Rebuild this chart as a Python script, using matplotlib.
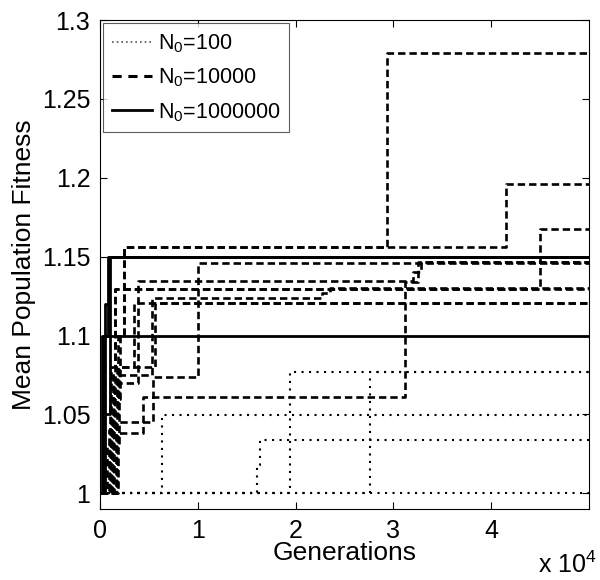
"""
Mean population fitness over generations for three starting population sizes,
step traces redrawn from the figure.
"""

import matplotlib
matplotlib.use('Agg')
import matplotlib.pyplot as plt

plt.rcParams['font.family'] = ['Liberation Sans', 'DejaVu Sans']
plt.rcParams['mathtext.fontset'] = 'custom'
plt.rcParams['mathtext.rm'] = 'Liberation Sans'

# N0 = 100 runs: generation of each jump and the fitness after it
small_gen = [[0], [0, 6300], [0, 16000, 16400], [0, 19400], [0, 27600]]
small_fit = [[1.0], [1.0, 1.0495], [1.0, 1.018, 1.0335], [1.0, 1.0766], [1.0, 1.0766]]

# N0 = 10000 runs
mid_gen = [
    [0, 1200, 1800, 2450, 29300],
    [0, 1000, 2000, 2450, 41500],
    [0, 900, 1500, 45000],
    [0, 1100, 1500],
    [0, 1800, 4400, 31200, 32500],
    [0, 1400, 3900, 32000, 32800],
    [0, 1600, 5400, 10000],
    [0, 1300, 5300, 22700, 23500],
    [0, 1700, 5600],
    [0, 700, 1900, 3500],
]
mid_fit = [
    [1.0, 1.05, 1.1, 1.156, 1.279],
    [1.0, 1.06, 1.1, 1.156, 1.196],
    [1.0, 1.04, 1.1295, 1.1675],
    [1.0, 1.08, 1.1295],
    [1.0, 1.0385, 1.061, 1.134, 1.1465],
    [1.0, 1.07, 1.1345, 1.14, 1.1465],
    [1.0, 1.045, 1.0735, 1.146],
    [1.0, 1.075, 1.1237, 1.127, 1.13],
    [1.0, 1.08, 1.1205],
    [1.0, 1.03, 1.08, 1.1205],
]

# N0 = 1000000 runs
big_gen = [[0, 300, 800], [0, 500, 900], [0, 200], [0, 400, 1000]]
big_fit = [[1.0, 1.1, 1.15], [1.0, 1.12, 1.15], [1.0, 1.0995], [1.0, 1.05, 1.15]]

x_end = 50000
x_ticks = [0, 10000, 20000, 30000, 40000]
x_labels = ['0', '1', '2', '3', '4']
y_ticks = [1.0, 1.05, 1.1, 1.15, 1.2, 1.25, 1.3]
y_labels = ['1', '1.05', '1.1', '1.15', '1.2', '1.25', '1.3']


def step_line(ax, gens, fits, **kw):
    # extend the last level to the right edge
    ax.plot(list(gens) + [x_end], list(fits) + [fits[-1]],
            drawstyle='steps-post', color='black', **kw)


fig = plt.figure(figsize=(6.0, 5.8), dpi=100)
ax = fig.add_axes([0.1667, 0.1224, 0.815, 0.843])

for g, f in zip(small_gen, small_fit):
    step_line(ax, g, f, lw=1.5, linestyle=(0, (1, 2.6)))
for g, f in zip(mid_gen, mid_fit):
    step_line(ax, g, f, lw=1.9, linestyle=(0, (2.8, 1.5)))
for g, f in zip(big_gen, big_fit):
    step_line(ax, g, f, lw=2.0, linestyle='-')

# legend proxies
h1, = ax.plot([], [], color='#555555', lw=1.2, linestyle=(0, (1, 1.8)))
h2, = ax.plot([], [], color='black', lw=2.2, linestyle=(0, (3, 2.2)))
h3, = ax.plot([], [], color='black', lw=2.0, linestyle='-')
leg = ax.legend([h1, h2, h3],
                [r'N$_\mathregular{0}$=100', r'N$_\mathregular{0}$=10000',
                 r'N$_\mathregular{0}$=1000000'],
                loc='upper left', bbox_to_anchor=(0.006, 0.993), fontsize=15.5,
                frameon=True, fancybox=False, edgecolor='#333333',
                handlelength=1.9, handletextpad=0.25, labelspacing=0.55,
                borderpad=0.4, borderaxespad=0.0)
leg.get_frame().set_linewidth(0.8)

ax.set_xlim(0, x_end)
ax.set_ylim(0.99, 1.3)
ax.set_xticks(x_ticks)
ax.set_xticklabels(x_labels)
ax.set_yticks(y_ticks)
ax.set_yticklabels(y_labels)
ax.tick_params(direction='in', top=True, right=True, length=5, width=0.8,
               labelsize=18, pad=7)
for s in ax.spines.values():
    s.set_linewidth(0.8)

ax.set_xlabel('Generations', fontsize=19, labelpad=-1)
ax.set_ylabel('Mean Population Fitness', fontsize=19, labelpad=4)
fig.text(0.995, 0.003, r'x 10$^\mathregular{4}$', fontsize=18,
         ha='right', va='bottom')

fig.savefig('out.png', dpi=100)
